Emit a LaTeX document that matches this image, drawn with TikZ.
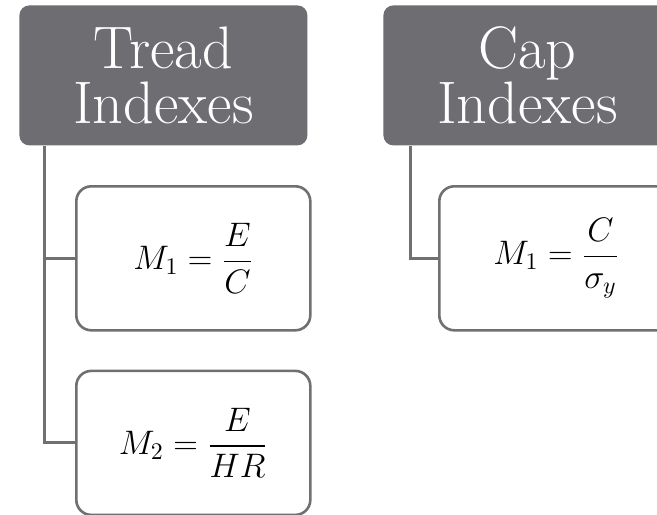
\RequirePackage{fix-cm}
\documentclass[tikz,border=0pt]{standalone}
\usepackage{amsmath}
\usepackage{tikz}
\usetikzlibrary{positioning}

\definecolor{headgray}{HTML}{6D6D72}
\definecolor{linegray}{HTML}{707070}

\begin{document}
\begin{tikzpicture}[
    x=0.5pt, y=-0.5pt,
    node distance=20pt and 0pt,
    head/.style={fill=headgray, rounded corners=5pt, text=white, align=center,
      minimum width=144pt, minimum height=70pt, inner sep=0pt,
      font=\fontsize{30}{27.5}\selectfont},
    index/.style={draw=linegray, line width=1.3pt, rounded corners=7.5pt, fill=white,
      minimum width=117pt, minimum height=72pt, inner sep=0pt,
      font=\fontsize{17}{20}\selectfont},
    link/.style={draw=linegray, line width=1.5pt}
  ]
    \useasboundingbox (0,0) rectangle (657,514);
    \clip (0,0) rectangle (657,514);

    % Headers
    \node[head, anchor=north west] (tread) at (19,5) {Tread\\Indexes};
    \node[head, anchor=north west] (cap) at (383,5) {Cap\\Indexes};

    % Tread boxes
    \node[index, anchor=north west] (treadone) at (75,185) {$\displaystyle M_1=\frac{E}{C}$};
    \node[index, below=19pt of treadone] (treadtwo) {$\displaystyle M_2=\frac{E}{HR}$};

    % Cap box
    \node[index, anchor=north west] (capone) at (438,185) {$\displaystyle M_1=\frac{C}{\sigma_y}$};

    % Links
    \draw[link] ([xshift=12.5pt]tread.south west) |- (treadone.west);
    \draw[link] ([xshift=12.5pt]tread.south west) |- (treadtwo.west);
    \draw[link] ([xshift=13.5pt]cap.south west) |- (capone.west);
  \end{tikzpicture}
\end{document}
